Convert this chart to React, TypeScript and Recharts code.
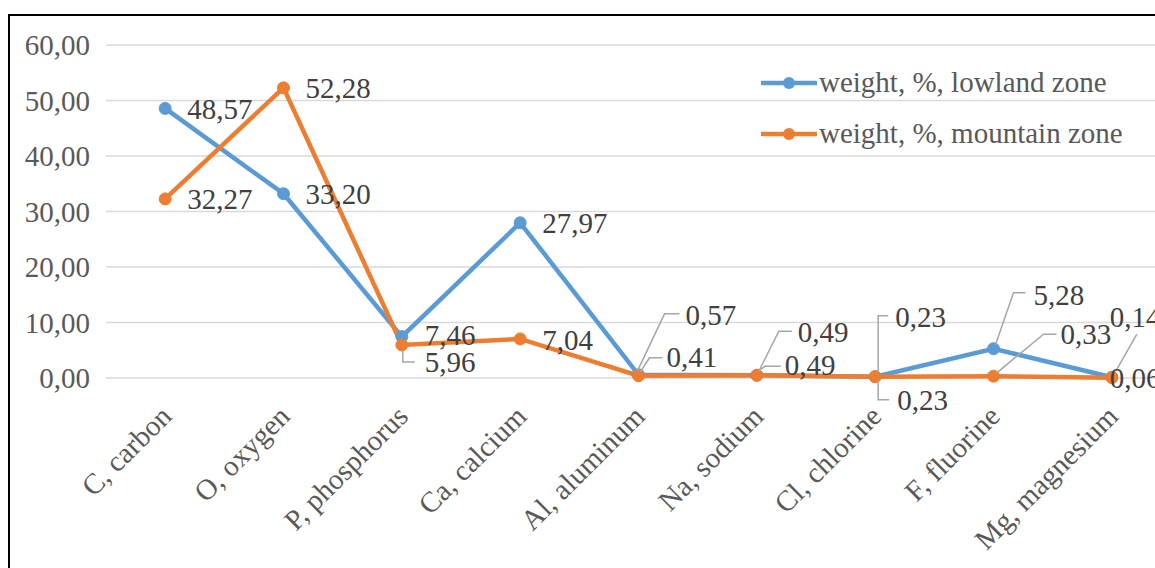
import { LineChart, Line, XAxis, YAxis, CartesianGrid, LabelList } from 'recharts';

const elements = [
  'C, carbon',
  'O, oxygen',
  'P, phosphorus',
  'Ca, calcium',
  'Al, aluminum',
  'Na, sodium',
  'Cl, chlorine',
  'F, fluorine',
  'Mg, magnesium',
];
const lowlandWeight = [48.57, 33.2, 7.46, 27.97, 0.57, 0.49, 0.23, 5.28, 0.14];
const mountainWeight = [32.27, 52.28, 5.96, 7.04, 0.41, 0.49, 0.23, 0.33, 0.06];
const yTicks = [0, 10, 20, 30, 40, 50, 60];

const LOWLAND = 'weight, %, lowland zone';
const MOUNTAIN = 'weight, %, mountain zone';
const BLUE = '#5B9BD5';
const ORANGE = '#ED7D31';
const FONT = '"Liberation Serif", "Times New Roman", serif';

const data = elements.map((name, i) => ({
  name,
  lowland: lowlandWeight[i],
  mountain: mountainWeight[i],
}));

type Leader = number[][];
type LabelPlace = { dx: number; dy: number; leader?: Leader };

// label offsets from each point, with optional leader lines (excel-style callouts)
const lowlandPlaces: LabelPlace[] = [
  { dx: 22, dy: 0 },
  { dx: 22, dy: 0 },
  { dx: 23, dy: -2 },
  { dx: 22, dy: 0 },
  { dx: 47, dy: -60, leader: [[-1, -4], [26, -61], [41, -61]] },
  { dx: 41, dy: -43, leader: [[2, -4], [22, -44], [35, -44]] },
  { dx: 20, dy: -60, leader: [[3, -4], [3, -61], [13, -61]] },
  { dx: 40, dy: -54, leader: [[2, -4], [20, -56], [32, -56]] },
  { dx: -2, dy: -60, leader: [[4, -6], [25, -43]] },
];
const mountainPlaces: LabelPlace[] = [
  { dx: 22, dy: 0 },
  { dx: 22, dy: 0 },
  { dx: 23, dy: 17, leader: [[1, 6], [1, 17], [13, 17]] },
  { dx: 22, dy: 1 },
  { dx: 28, dy: -19, leader: [[2, -4], [11, -18], [24, -18]] },
  { dx: 28, dy: -10, leader: [[4, -6], [8, -9], [24, -9]] },
  { dx: 22, dy: 23, leader: [[3, 4], [3, 23], [14, 23]] },
  { dx: 67, dy: -42, leader: [[3, -3], [50, -42], [63, -42]] },
  { dx: -2, dy: 0 },
];

const fmt = (v: number) => v.toFixed(2).replace('.', ',');

function ValueLabel(props: any) {
  const { x, y, value, index, places } = props;
  const p: LabelPlace = places[index];
  if (x == null || y == null) return null;
  return (
    <g>
      {p.leader && (
        <polyline
          points={p.leader.map(([a, b]) => `${x + a},${y + b}`).join(' ')}
          fill="none"
          stroke="#A6A6A6"
          strokeWidth={1.5}
        />
      )}
      <text
        x={x + p.dx}
        y={y + p.dy}
        dy="0.35em"
        fontSize={29}
        fontFamily={FONT}
        fill="#404040"
      >
        {fmt(value)}
      </text>
    </g>
  );
}

function ElementTick(props: any) {
  const { x, y, payload } = props;
  return (
    <g transform={`translate(${x + 8},${y + 40})`}>
      <text textAnchor="end" transform="rotate(-45)" fontSize={29} fontFamily={FONT} fill="#595959">
        {payload.value}
      </text>
    </g>
  );
}

function LegendBox() {
  const rows = [
    { name: LOWLAND, color: BLUE },
    { name: MOUNTAIN, color: ORANGE },
  ];
  return (
    <div
      style={{
        position: 'absolute',
        left: 751,
        top: 41,
        fontFamily: FONT,
        fontSize: 29,
        color: '#595959',
      }}
    >
      {rows.map((r) => (
        <div key={r.name} style={{ display: 'flex', alignItems: 'center', height: 51 }}>
          <svg width={56} height={14} style={{ marginRight: 2 }}>
            <line x1={1} y1={7} x2={55} y2={7} stroke={r.color} strokeWidth={4.5} strokeLinecap="round" />
            <circle cx={28} cy={7} r={6} fill={r.color} />
          </svg>
          <span style={{ whiteSpace: 'nowrap' }}>{r.name}</span>
        </div>
      ))}
    </div>
  );
}

export default function App() {
  return (
    <div
      style={{
        position: 'absolute',
        left: 0,
        top: 0,
        width: 1155,
        height: 568,
        overflow: 'hidden',
        background: '#fff',
      }}
    >
      <div
        style={{
          position: 'absolute',
          left: 8,
          top: 14,
          borderLeft: '2px solid #000',
          borderTop: '2px solid #000',
          width: 1200,
          height: 560,
        }}
      >
        <LineChart
          width={1190}
          height={560}
          data={data}
          margin={{ top: 29, right: 29, bottom: 0, left: 0 }}
        >
          <CartesianGrid vertical={false} stroke="#D9D9D9" strokeWidth={1.5} />
          <XAxis
            dataKey="name"
            scale="band"
            axisLine={false}
            tickLine={false}
            tickSize={0}
            tickMargin={0}
            interval={0}
            height={198}
            tick={<ElementTick />}
          />
          <YAxis
            domain={[0, 60]}
            ticks={yTicks}
            width={96}
            axisLine={false}
            tickLine={false}
            tickSize={6}
            tickMargin={10}
            tickFormatter={fmt}
            tick={{ fontSize: 29, fontFamily: FONT, fill: '#595959' }}
          />
          <Line
            name={LOWLAND}
            dataKey="lowland"
            stroke={BLUE}
            strokeWidth={4.5}
            dot={{ r: 6, fill: BLUE, stroke: BLUE, strokeWidth: 1 }}
            isAnimationActive={false}
          >
            <LabelList dataKey="lowland" content={(p: any) => <ValueLabel {...p} places={lowlandPlaces} />} />
          </Line>
          <Line
            name={MOUNTAIN}
            dataKey="mountain"
            stroke={ORANGE}
            strokeWidth={4.5}
            dot={{ r: 6, fill: ORANGE, stroke: ORANGE, strokeWidth: 1 }}
            isAnimationActive={false}
          >
            <LabelList dataKey="mountain" content={(p: any) => <ValueLabel {...p} places={mountainPlaces} />} />
          </Line>
        </LineChart>
        <LegendBox />
      </div>
    </div>
  );
}
